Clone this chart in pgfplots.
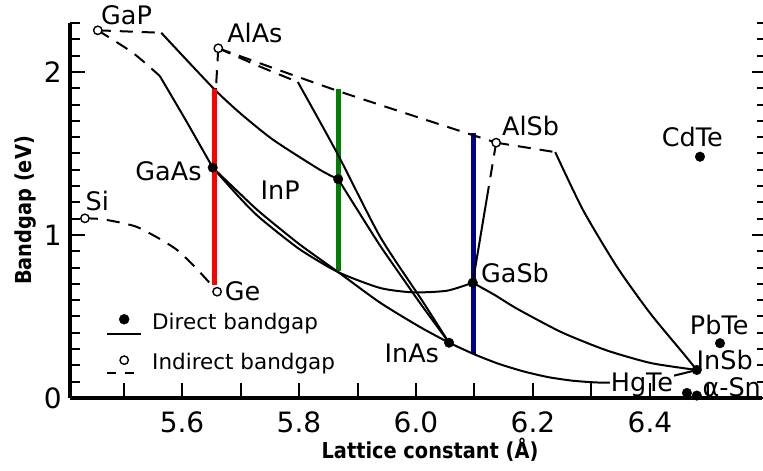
\documentclass[border=0pt]{standalone}
\usepackage{pgfplots}
\pgfplotsset{compat=1.18}
\usepackage{fontspec}
\setmainfont{DejaVu Sans}
\newfontfamily\axlabelfont{DejaVu Sans}[FakeStretch=0.88]
\definecolor{cred}{RGB}{255,0,0}
\definecolor{cgreen}{RGB}{0,128,0}
\definecolor{cblue}{RGB}{0,0,140}
\newcommand\lbl{\fontsize{25.5}{30}\selectfont}
\pgfplotsset{
  solidc/.style={black, line width=2pt, no markers, smooth, tension=0.4, line join=round, forget plot},
  dashc/.style={black, line width=2pt, no markers, smooth, tension=0.4, dash pattern=on 13pt off 9pt, forget plot},
}
\begin{document}
\begin{tikzpicture}
\begin{axis}[
  name=main,
  axis on top,
  scale only axis, width=692pt, height=375pt,
  xmin=5.4085, xmax=6.5915, ymin=0, ymax=2.3,
  clip=false,
  axis x line*=bottom, axis y line*=left,
  axis line style={line width=4pt, black},
  tick align=inside,
  xtick={5.5,5.6,5.7,5.8,5.9,6.0,6.1,6.2,6.3,6.4,6.5},
  xticklabels={,5.6,,5.8,,6.0,,6.2,,6.4,},
  ytick={0,1,2},
  minor ytick={0.1,0.2,0.3,0.4,0.5,0.6,0.7,0.8,0.9,1.1,1.2,1.3,1.4,1.5,1.6,1.7,1.8,1.9,2.1,2.2,2.3},
  major tick length=15pt, minor tick length=10pt,
  tick style={line width=2pt, black},
  /pgf/number format/assume math mode=true,
  tick label style={font=\fontsize{28}{30}\selectfont},
  xticklabel style={inner sep=0pt, yshift=-14pt},
  yticklabel style={inner sep=0pt, xshift=-8pt},
  xlabel={Lattice constant (Å)},
  ylabel={Bandgap (eV)},
  label style={font=\axlabelfont\bfseries\fontsize{22}{26}\selectfont},
  xlabel style={at={([yshift=-52pt]axis description cs:0.5202,0)}, anchor=center},
  ylabel style={at={([xshift=-44pt]axis description cs:0,0.5)}, anchor=center},
  legend cell align=left,
  legend style={draw=none, fill=none, at={(axis cs:5.4649,0.545)}, anchor=north west,
    font=\fontsize{21.5}{26}\selectfont, row sep=16pt,
    /tikz/every odd column/.append style={column sep=8pt}},
]
\addlegendimage{legend image code/.code={
  \draw[black, line width=2pt] (0pt,-12pt) -- (34pt,-12pt);
  \fill[black] (17pt,3pt) circle (5pt);}}
\addlegendentry{Direct bandgap}
\addlegendimage{legend image code/.code={
  \draw[black, line width=2pt, dash pattern=on 9pt off 9pt] (0pt,-11pt) -- (28pt,-11pt);
  \draw[black, line width=1.4pt, fill=white] (17pt,2pt) circle (4.2pt);}}
\addlegendentry{Indirect bandgap}

% coloured lattice-matched lines (behind)
\addplot[cgreen, line width=5pt, no markers, forget plot] coordinates {(5.868,0.78) (5.868,1.896)};
\addplot[cblue, line width=5pt, no markers, forget plot] coordinates {(6.098,0.27) (6.098,1.624)};

% Si-Ge
\addplot[dashc] coordinates {(5.434,1.102) (5.460,1.098) (5.489,1.080) (5.523,1.049) (5.5624,0.975) (5.5915,0.908) (5.6188,0.816) (5.6427,0.724) (5.660,0.652)};
% GaP-InP
\addplot[dashc] coordinates {(5.456,2.255) (5.5645,2.240)};
\addplot[solidc] coordinates {(5.5645,2.240) (5.6535,1.900) (5.700,1.745) (5.756,1.583) (5.836,1.399) (5.867,1.342)};
% GaP-GaAs
\addplot[dashc] coordinates {(5.456,2.255) (5.516,2.117) (5.562,1.975)};
\addplot[solidc] coordinates {(5.562,1.975) (5.607,1.70) (5.6525,1.413)};
% AlAs-GaAs
\addplot[dashc] coordinates {(5.662,2.145) (5.658,1.90)};
\addplot[solidc] coordinates {(5.658,1.90) (5.6525,1.413)};
% AlAs-InAs
\addplot[dashc] coordinates {(5.662,2.145) (5.733,2.033) (5.798,1.938)};
\addplot[solidc] coordinates {(5.798,1.938) (5.865,1.503) (5.9385,0.99) (6.010,0.60) (6.0565,0.339)};
% AlAs-AlSb
\addplot[dashc] coordinates {(5.662,2.145) (5.870,1.879) (6.137,1.566)};
% AlSb-InSb
\addplot[dashc] coordinates {(6.137,1.566) (6.238,1.508)};
\addplot[solidc] coordinates {(6.238,1.508) (6.2855,1.153) (6.3436,0.804) (6.400,0.521) (6.4564,0.276) (6.480,0.172)};
% AlSb-GaSb
\addplot[dashc] coordinates {(6.137,1.566) (6.1246,1.30)};
\addplot[solidc] coordinates {(6.1246,1.30) (6.097,0.707)};
% GaAs-InAs
\addplot[solidc] coordinates {(5.6525,1.413) (5.700,1.250) (5.733,1.140) (5.800,0.945) (5.867,0.772) (5.9385,0.585) (6.007,0.435) (6.0565,0.339)};
% GaAs-GaSb
\addplot[solidc] coordinates {(5.6525,1.413) (5.700,1.223) (5.733,1.105) (5.800,0.915) (5.867,0.772) (5.9385,0.675) (5.995,0.648) (6.053,0.658) (6.097,0.707)};
% InP-InAs
\addplot[solidc] coordinates {(5.867,1.342) (5.900,1.153) (5.9385,0.935) (5.975,0.746) (6.010,0.567) (6.0565,0.339)};
% GaSb-InSb
\addplot[solidc] coordinates {(6.097,0.707) (6.134,0.633) (6.173,0.547) (6.249,0.403) (6.326,0.292) (6.402,0.214) (6.480,0.172)};
% InAs-InSb
\addplot[solidc] coordinates {(6.0565,0.339) (6.099,0.269) (6.141,0.210) (6.184,0.163) (6.226,0.128) (6.268,0.106) (6.311,0.095) (6.353,0.096) (6.395,0.109) (6.438,0.135) (6.480,0.172)};

% direct-gap compounds
\addplot[only marks, mark=*, mark size=4.8pt, black, forget plot] coordinates {(5.6525,1.413) (5.867,1.342) (6.097,0.707) (6.0565,0.339) (6.480,0.172) (6.4855,1.480) (6.5197,0.336) (6.4632,0.031) (6.480,0.015)};
% indirect-gap compounds
\addplot[only marks, mark=*, mark size=4.2pt, mark options={fill=white, draw=black, line width=1.4pt}, forget plot] coordinates {(5.456,2.255) (5.662,2.145) (6.137,1.566) (5.434,1.102) (5.660,0.652)};

\addplot[cred, line width=5pt, no markers, forget plot] coordinates {(5.655,0.693) (5.655,1.896)};

\node[anchor=base west, font=\lbl, inner sep=0pt] at (axis cs:5.4615,2.288) {GaP};
\node[anchor=base west, font=\lbl, inner sep=0pt] at (axis cs:5.677,2.178) {AlAs};
\node[anchor=base west, font=\lbl, inner sep=0pt] at (axis cs:6.147,1.613) {AlSb};
\node[anchor=base west, font=\lbl, inner sep=0pt] at (axis cs:6.420,1.540) {CdTe};
\node[anchor=base west, font=\lbl, inner sep=0pt] at (axis cs:5.435,1.153) {Si};
\node[anchor=base west, font=\lbl, inner sep=0pt] at (axis cs:5.673,0.601) {Ge};
\node[anchor=base west, font=\lbl, inner sep=0pt] at (axis cs:5.520,1.337) {GaAs};
\node[anchor=base west, font=\lbl, inner sep=0pt] at (axis cs:5.734,1.215) {InP};
\node[anchor=base west, font=\lbl, inner sep=0pt] at (axis cs:6.111,0.706) {GaSb};
\node[anchor=base west, font=\lbl, inner sep=0pt] at (axis cs:5.946,0.215) {InAs};
\node[anchor=base west, font=\lbl, inner sep=0pt] at (axis cs:6.468,0.387) {PbTe};
\node[anchor=base west, font=\lbl, inner sep=0pt] at (axis cs:6.4795,0.172) {InSb};
\node[anchor=base west, font=\lbl, inner sep=1pt, fill=white] at (axis cs:6.331,0.037) {HgTe};
\node[anchor=base west, font=\lbl, inner sep=0pt] at (axis cs:6.4895,0.012) {α-Sn};
\end{axis}
\begin{axis}[
  scale only axis, width=693pt, height=375pt,
  xmin=0, xmax=1, ymin=0, ymax=2.3,
  hide x axis,
  axis y line*=right,
  axis line style={draw=none},
  ytick={0,1,2},
  minor ytick={0.1,0.2,0.3,0.4,0.5,0.6,0.7,0.8,0.9,1.1,1.2,1.3,1.4,1.5,1.6,1.7,1.8,1.9,2.1,2.2,2.3},
  yticklabels={},
  tick align=inside,
  major tick length=11pt, minor tick length=6pt,
  tick style={line width=2pt, black},
]
\end{axis}
\pgfresetboundingbox
\path ([shift={(-70pt,-73pt)}]main.south west) rectangle ([shift={(1pt,23pt)}]main.north east);
\end{tikzpicture}
\end{document}
